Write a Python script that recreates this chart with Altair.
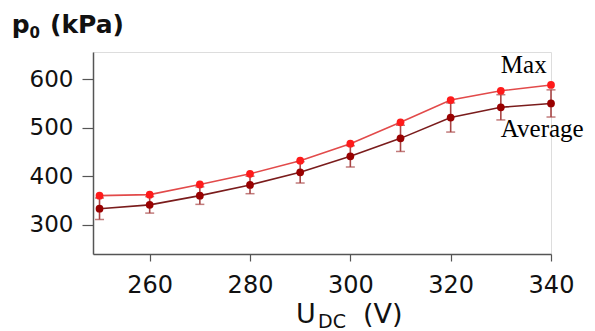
import altair as alt
import pandas as pd

# --- data ---
u_dc = [250, 260, 270, 280, 290, 300, 310, 320, 330, 340]
p_max = [360, 362, 383, 405, 432, 467, 511, 557, 576, 588]
p_avg = [333, 341, 360, 382, 408, 441, 478, 521, 542, 550]
p_err = [22, 17, 18, 18, 22, 22, 27, 30, 26, 28]

x_ticks = [260, 280, 300, 320, 340]
y_ticks = [300, 400, 500, 600]

series_labels = ["Max", "Average"]
label_x = [330, 330]
label_y = [612, 481]

df = pd.DataFrame({"U": u_dc, "pmax": p_max, "pavg": p_avg, "err": p_err})
df["lo"] = df["pavg"] - df["err"]
df["hi"] = df["pavg"] + df["err"]
lab = pd.DataFrame({"U": label_x, "p": label_y, "t": series_labels})

W, H = 458, 202
xs = alt.Scale(domain=[248.7, 340], nice=False, zero=False)
ys = alt.Scale(domain=[239.7, 656], nice=False, zero=False)

FONT = "DejaVu Sans"
xax = alt.Axis(values=x_ticks, title=None, grid=False, domainColor="#555555",
               domainWidth=1.5, tickColor="#555555", tickSize=7, tickWidth=1.2,
               labelFont=FONT, labelFontSize=24, labelColor="#111111",
               labelPadding=12, labelFlush=False)
yax = alt.Axis(values=y_ticks, title=None, grid=False, domainColor="#555555",
               domainWidth=1.5, tickColor="#555555", tickSize=11, tickWidth=1.2,
               labelFont=FONT, labelFontSize=23, labelColor="#111111",
               labelPadding=9)

base = alt.Chart(df)
X = alt.X("U:Q", scale=xs, axis=xax)

max_line = base.mark_line(color="#e24a4a", strokeWidth=1.6).encode(
    x=X, y=alt.Y("pmax:Q", scale=ys, axis=yax))
avg_line = base.mark_line(color="#7a1c1c", strokeWidth=1.6).encode(
    x="U:Q", y=alt.Y("pavg:Q", scale=ys))
err_rule = base.mark_rule(color="#a84545", strokeWidth=1.6).encode(
    x="U:Q", y=alt.Y("lo:Q", scale=ys), y2="hi:Q")
err_lo = base.mark_tick(color="#a84545", size=9, thickness=1.5, orient="horizontal").encode(
    x="U:Q", y=alt.Y("lo:Q", scale=ys))
err_hi = base.mark_tick(color="#a84545", size=9, thickness=1.5, orient="horizontal").encode(
    x="U:Q", y=alt.Y("hi:Q", scale=ys))
avg_pts = base.mark_circle(color="#990000", size=60, opacity=1).encode(
    x="U:Q", y=alt.Y("pavg:Q", scale=ys))
max_pts = base.mark_circle(color="#ff1a1a", size=60, opacity=1).encode(
    x="U:Q", y=alt.Y("pmax:Q", scale=ys))

labels = alt.Chart(lab).mark_text(font="Liberation Serif", fontSize=25, align="left",
                                  baseline="alphabetic", color="#000000").encode(
    x=alt.X("U:Q", scale=xs), y=alt.Y("p:Q", scale=ys), text="t:N")

# axis titles with subscripts
def txt(s, x, y, size, bold=False, font=FONT):
    return alt.Chart(pd.DataFrame({"t": [s]})).mark_text(
        font=font, fontSize=size, align="left", baseline="alphabetic",
        fontWeight="bold" if bold else "normal", color="#111111").encode(
        x=alt.value(x), y=alt.value(y), text="t:N")

# positions relative to plot origin (left=93, top=52)
yt = [txt("p", 11.7 - 93, 33 - 52, 25, True),
      txt("0", 29.5 - 93, 38 - 52, 15, True),
      txt("(kPa)", 50 - 93, 33 - 52, 25, True)]
xt = [txt("U", 296 - 93, 323 - 52, 27),
      txt("DC", 318 - 93, 328 - 52, 19),
      txt("(V)", 363 - 93, 323 - 52, 27)]

chart = alt.layer(max_line, avg_line, err_rule, err_lo, err_hi, avg_pts, max_pts,
                  labels, *yt, *xt).properties(
    width=W, height=H,
    padding={"left": 93, "top": 52, "right": 44, "bottom": 77},
    autosize=alt.AutoSizeParams(type="none"),
).configure_view(stroke=None).configure(background="white")

chart.save("out.html", embed_options={"renderer": "svg", "actions": False})
